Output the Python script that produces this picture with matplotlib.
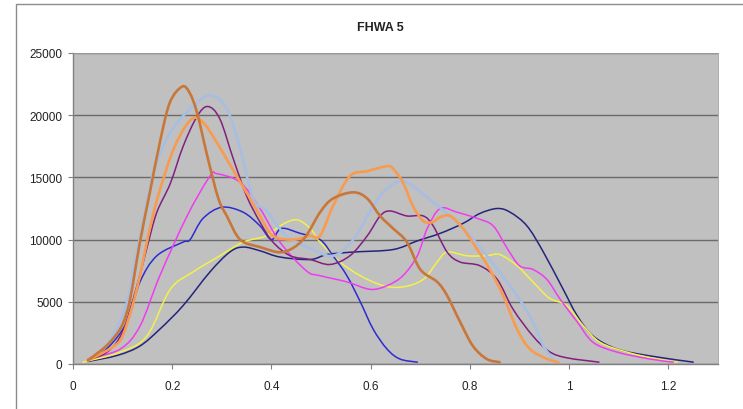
import matplotlib
matplotlib.use('Agg')
import matplotlib.pyplot as plt
from matplotlib.patches import Rectangle, PathPatch
from matplotlib.path import Path

plt.rcParams['font.family'] = ['Liberation Sans', 'DejaVu Sans']

# each series: x positions and values
brown_x = [0.03, 0.06, 0.08, 0.10, 0.115, 0.135, 0.155, 0.175, 0.195, 0.22, 0.235, 0.25, 0.272, 0.293,
           0.31, 0.337, 0.377, 0.423, 0.464, 0.498, 0.524, 0.565, 0.593, 0.619, 0.645, 0.673, 0.70,
           0.734, 0.754, 0.78, 0.806, 0.834, 0.86]
brown_y = [300, 1200, 2000, 3200, 5200, 9800, 13800, 17800, 21000, 22300, 21800, 20200, 16500, 13300,
           11900, 10000, 9400, 9000, 10000, 12200, 13300, 13800, 13300, 11900, 10900, 9800, 7600,
           6600, 5500, 3400, 1450, 400, 150]

orange_x = [0.03, 0.06, 0.085, 0.10, 0.12, 0.135, 0.15, 0.17, 0.20, 0.225, 0.245, 0.265, 0.29, 0.33,
            0.357, 0.377, 0.403, 0.444, 0.478, 0.498, 0.524, 0.558, 0.593, 0.633, 0.645, 0.665, 0.685,
            0.706, 0.724, 0.74, 0.76, 0.786, 0.815, 0.84, 0.867, 0.895, 0.921, 0.956, 0.978]
orange_y = [300, 900, 1500, 2250, 4700, 7100, 10000, 13300, 17000, 19000, 19800, 19300, 17800, 15100,
            13300, 11900, 10300, 10000, 10300, 10300, 12700, 15100, 15500, 15900, 15700, 14600, 12700,
            11500, 11400, 11800, 11900, 10900, 9200, 7600, 5500, 2800, 1200, 400, 150]

ltblue_x = [0.03, 0.06, 0.085, 0.109, 0.13, 0.149, 0.165, 0.196, 0.236, 0.276, 0.31, 0.337, 0.363,
            0.39, 0.43, 0.478, 0.524, 0.565, 0.605, 0.633, 0.66, 0.685, 0.726, 0.76, 0.794, 0.834,
            0.875, 0.90, 0.927, 0.948, 0.97]
ltblue_y = [300, 1200, 2600, 5000, 9200, 13000, 15800, 18600, 20500, 21600, 20500, 17300, 13300,
            12300, 10300, 9300, 8700, 10000, 12700, 14100, 14700, 14300, 13000, 11900, 10600, 8700,
            6600, 5200, 3400, 1450, 300]

purple_x = [0.03, 0.07, 0.10, 0.129, 0.15, 0.169, 0.196, 0.222, 0.25, 0.272, 0.296, 0.323, 0.35,
            0.377, 0.403, 0.438, 0.478, 0.518, 0.558, 0.593, 0.619, 0.639, 0.673, 0.706, 0.726, 0.754,
            0.78, 0.82, 0.855, 0.887, 0.927, 0.96, 0.995, 1.06]
purple_y = [300, 1000, 2600, 6300, 9500, 12200, 14500, 17500, 19900, 20700, 19700, 16500, 13500,
            11400, 9800, 8700, 8400, 8000, 8700, 10300, 11900, 12300, 11900, 11900, 11100, 9000,
            8200, 7900, 6800, 4400, 2250, 1000, 500, 150]

magenta_x = [0.03, 0.095, 0.135, 0.175, 0.23, 0.276, 0.29, 0.337, 0.377, 0.417, 0.47, 0.498, 0.552,
             0.599, 0.633, 0.665, 0.694, 0.714, 0.74, 0.774, 0.815, 0.847, 0.875, 0.90, 0.927, 0.955,
             0.982, 1.016, 1.048, 1.097, 1.163, 1.21]
magenta_y = [400, 1200, 3050, 7100, 11900, 15100, 15300, 14600, 12500, 9800, 7500, 7100, 6600,
             6000, 6300, 7100, 8700, 10900, 12500, 12200, 11700, 11100, 9300, 7900, 7600, 6800,
             5200, 3400, 1750, 950, 400, 150]

blue_x = [0.03, 0.07, 0.109, 0.135, 0.169, 0.222, 0.236, 0.262, 0.30, 0.343, 0.377, 0.40, 0.42,
          0.458, 0.498, 0.524, 0.552, 0.579, 0.605, 0.633, 0.659, 0.694]
blue_y = [300, 1300, 3400, 6600, 8700, 9800, 10000, 11700, 12600, 12200, 11100, 10000, 10900,
          10500, 10000, 8700, 7100, 5000, 2800, 1200, 400, 150]

yellow_x = [0.02, 0.095, 0.149, 0.196, 0.242, 0.296, 0.343, 0.39, 0.417, 0.45, 0.478, 0.498, 0.538,
            0.579, 0.625, 0.665, 0.706, 0.734, 0.754, 0.794, 0.834, 0.86, 0.895, 0.927, 0.96, 0.995,
            1.028, 1.062, 1.117, 1.177, 1.218]
yellow_y = [150, 950, 2250, 6000, 7400, 8700, 9800, 10300, 11100, 11600, 10900, 9800, 8200,
            7100, 6300, 6200, 6800, 8200, 9000, 8700, 8700, 8800, 7900, 6600, 5300, 4700,
            3100, 1750, 950, 400, 150]

navy_x = [0.03, 0.09, 0.135, 0.175, 0.222, 0.276, 0.316, 0.343, 0.377, 0.417, 0.478, 0.512, 0.565,
          0.645, 0.694, 0.74, 0.786, 0.82, 0.855, 0.881, 0.915, 0.948, 0.988, 1.016, 1.048, 1.097,
          1.163, 1.25]
navy_y = [200, 700, 1450, 2800, 4700, 7400, 9000, 9400, 9100, 8600, 8400, 8800, 9000,
          9200, 9900, 10500, 11300, 12100, 12500, 12200, 11100, 9000, 6000, 3900, 2250, 1200,
          650, 150]

series = [
    (navy_x, navy_y, '#24247C', 1.1),
    (yellow_x, yellow_y, '#F2F24A', 1.1),
    (blue_x, blue_y, '#2C2CD2', 1.1),
    (magenta_x, magenta_y, '#F03CF0', 1.1),
    (purple_x, purple_y, '#80207F', 1.1),
    (ltblue_x, ltblue_y, '#A7BEE2', 1.9),
    (orange_x, orange_y, '#F99B4E', 1.9),
    (brown_x, brown_y, '#C8773A', 1.9),
]


def smooth_path(xs, ys):
    # smoothed line like a spreadsheet chart: cubic bezier through every point
    pts = list(zip(xs, ys))
    verts = [pts[0]]
    codes = [Path.MOVETO]
    n = len(pts)
    for i in range(n - 1):
        p0 = pts[i - 1] if i > 0 else pts[i]
        p1 = pts[i]
        p2 = pts[i + 1]
        p3 = pts[i + 2] if i + 2 < n else pts[i + 1]
        c1 = (p1[0] + (p2[0] - p0[0]) / 6, p1[1] + (p2[1] - p0[1]) / 6)
        c2 = (p2[0] - (p3[0] - p1[0]) / 6, p2[1] - (p3[1] - p1[1]) / 6)
        verts += [c1, c2, p2]
        codes += [Path.CURVE4] * 3
    return Path(verts, codes)


fig = plt.figure(figsize=(7.43, 4.10), dpi=100)
fig.patches.append(Rectangle((16/743, -0.1), 1.2, 1.1 - 5/410, transform=fig.transFigure,
                             fill=False, edgecolor='#8C8C8C', linewidth=1.0))
ax = fig.add_axes([73/743, 45/410, 645/743, 311/410])
ax.set_facecolor('#C0C0C0')

for xs, ys, c, lw in series:
    ax.add_patch(PathPatch(smooth_path(xs, ys), fill=False, edgecolor=c, linewidth=lw,
                           capstyle='round', joinstyle='round'))

ax.set_xlim(0, 1.3)
ax.set_ylim(0, 25000)
ax.set_xticks([0, 0.2, 0.4, 0.6, 0.8, 1, 1.2])
ax.set_xticklabels(['0', '0.2', '0.4', '0.6', '0.8', '1', '1.2'])
ax.set_yticks(range(0, 25001, 5000))
ax.yaxis.grid(True, color='#6A6A6A', linewidth=1.0)
ax.set_axisbelow(True)
for side in ['top', 'right']:
    ax.spines[side].set_color('#A0A0A0')
    ax.spines[side].set_linewidth(0.6)
for side in ['left', 'bottom']:
    ax.spines[side].set_color('#808080')
    ax.spines[side].set_linewidth(1.0)
ax.tick_params(axis='both', direction='out', length=3.5, width=0.8, color='#808080',
               labelsize=8.5, labelcolor='#222222')
ax.tick_params(axis='x', pad=8)
ax.tick_params(axis='y', pad=4)

fig.text(380/743, 1 - 28/410, 'FHWA 5', ha='center', va='center', fontsize=9,
         fontweight='bold', color='#222222')

fig.savefig('out.png', dpi=100)
